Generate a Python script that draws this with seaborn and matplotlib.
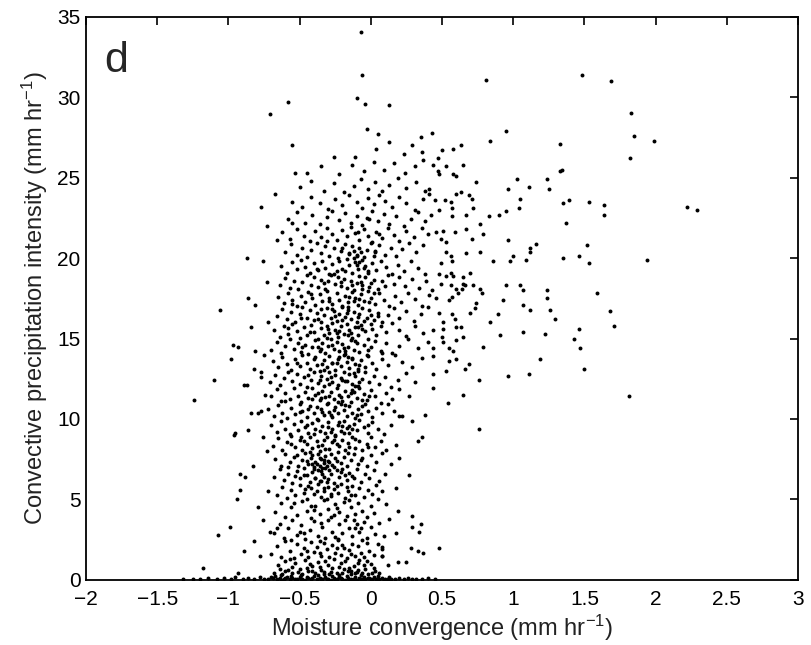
import matplotlib
matplotlib.use("Agg")
import matplotlib.pyplot as plt
from matplotlib.ticker import FuncFormatter
import seaborn as sns
import pandas as pd

# ---- data: hand-estimated point positions ----
baseline = [
(-1.32,0.05),(-1.25,0.08),(-1.2,0.04),(-1.14,0.1),(-1.08,0.06),(-1.03,0.12),(-0.98,0.05),(-0.95,0.2),(-0.9,0.07),(-0.86,0.1),(-0.82,0.04),(-0.78,0.15),(-0.75,0.06),
(-0.72,0.05),(-0.69,0.1),(-0.66,0.03),(-0.64,0.14),(-0.61,0.06),(-0.59,0.2),(-0.57,0.04),(-0.55,0.11),(-0.52,0.03),(-0.5,0.16),(-0.48,0.07),(-0.46,0.02),(-0.44,0.12),(-0.42,0.05),(-0.4,0.22),(-0.38,0.04),(-0.36,0.09),(-0.34,0.03),(-0.32,0.15),(-0.3,0.06),(-0.28,0.02),(-0.26,0.1),(-0.24,0.04),(-0.22,0.18),(-0.2,0.05),(-0.18,0.02),(-0.16,0.11),(-0.14,0.04),(-0.12,0.07),(-0.1,0.02),(-0.08,0.13),(-0.06,0.05),(-0.04,0.03),(-0.02,0.09),(0.0,0.04),(0.02,0.15),(0.04,0.06),(0.06,0.03),(0.08,0.1),(0.1,0.05),(0.12,0.08),(0.14,0.03),
(-0.7,0.18),(-0.67,0.25),(-0.63,0.02),(-0.6,0.1),(-0.56,0.27),(-0.53,0.08),(-0.49,0.03),(-0.45,0.2),(-0.41,0.1),(-0.37,0.28),(-0.35,0.02),(-0.31,0.08),(-0.27,0.22),(-0.25,0.02),(-0.21,0.1),(-0.17,0.24),(-0.15,0.02),(-0.11,0.16),(-0.07,0.03),(-0.05,0.2),(-0.01,0.12),(0.01,0.02),(0.05,0.22),(0.09,0.02),(0.13,0.17),
(0.17,0.04),(0.2,0.1),(0.23,0.05),(0.26,0.12),(0.29,0.04),(0.32,0.07),(0.36,0.03),(0.4,0.09),(0.45,0.05),
]

lower_core = [
(-0.68,0.45),(-0.65,0.9),(-0.62,0.38),(-0.6,1.2),(-0.58,0.6),(-0.55,0.42),(-0.53,1.05),(-0.5,0.7),(-0.48,0.35),(-0.46,1.25),(-0.44,0.55),(-0.41,0.85),(-0.39,0.4),(-0.37,1.1),(-0.35,0.62),(-0.33,0.36),(-0.3,0.95),(-0.28,0.5),(-0.26,1.3),(-0.24,0.4),(-0.22,0.78),(-0.2,0.45),(-0.18,1.15),(-0.16,0.58),(-0.14,0.37),(-0.12,0.88),(-0.1,0.5),(-0.08,1.22),(-0.06,0.4),(-0.04,0.7),(-0.02,0.36),(0.0,1.0),(0.03,0.55),(0.06,0.4),(-0.64,0.7),(-0.57,1.3),(-0.51,0.5),(-0.43,1.0),(-0.36,0.8),(-0.29,0.38),(-0.21,1.05),(-0.15,0.75),(-0.09,0.6),(-0.03,1.15),(0.01,0.45),(-0.45,0.75),(-0.32,1.2),(-0.19,0.65),(-0.11,0.42),(-0.05,0.95),
(-0.7,1.6),(-0.66,2.1),(-0.63,1.4),(-0.6,2.4),(-0.57,1.8),(-0.54,1.35),(-0.52,2.2),(-0.49,1.6),(-0.47,2.0),(-0.44,1.45),(-0.42,2.35),(-0.4,1.75),(-0.38,2.05),(-0.35,1.5),(-0.33,2.3),(-0.31,1.9),(-0.29,1.4),(-0.27,2.15),(-0.25,1.65),(-0.23,2.45),(-0.21,1.55),(-0.19,2.0),(-0.17,1.35),(-0.15,1.85),(-0.13,2.25),(-0.11,1.5),(-0.09,2.1),(-0.07,1.7),(-0.05,1.4),(-0.03,2.3),(-0.01,1.8),(0.02,1.55),(0.05,2.2),(-0.56,2.45),(-0.45,1.8),(-0.36,2.4),(-0.24,1.95),(-0.14,1.6),(-0.06,2.45),(0.08,1.5),
(-0.68,2.9),(-0.64,3.5),(-0.61,2.6),(-0.58,3.2),(-0.55,3.7),(-0.52,2.8),(-0.49,3.4),(-0.46,2.55),(-0.43,3.1),(-0.4,3.65),(-0.37,2.75),(-0.34,3.3),(-0.32,2.6),(-0.3,3.75),(-0.27,3.0),(-0.25,2.65),(-0.22,3.5),(-0.2,2.9),(-0.18,3.7),(-0.15,3.2),(-0.13,2.7),(-0.1,3.45),(-0.08,2.95),(-0.05,3.6),(-0.03,2.6),(0.0,3.3),(0.03,2.85),(0.06,3.55),(-0.5,3.0),(-0.35,3.55),(-0.23,2.55),(-0.12,3.75),(-0.66,3.2),(-0.07,3.25),(0.09,2.7),
(-0.67,4.2),(-0.63,4.8),(-0.6,3.9),(-0.56,4.5),(-0.52,4.05),(-0.48,4.9),(-0.45,4.3),(-0.42,3.85),(-0.39,4.6),(-0.36,4.1),(-0.33,4.95),(-0.3,4.4),(-0.28,3.9),(-0.25,4.7),(-0.22,4.2),(-0.19,4.85),(-0.17,3.95),(-0.14,4.5),(-0.11,4.1),(-0.09,4.75),(-0.06,4.3),(-0.03,3.9),(0.0,4.6),(0.02,4.15),(-0.54,4.75),(-0.4,4.35),(-0.26,4.05),(-0.15,4.95),
(0.18,5.7),(0.19,4.3),(0.18,2.9),(0.19,1.1),(0.25,1.1),(0.29,4.0),(0.35,3.5),(0.34,3.0),(0.29,3.3),(0.28,2.0),(0.33,1.8),(0.37,1.7),(0.48,2.0),(0.11,4.7),(0.08,2.05),(0.08,1.9),(0.08,1.5),(0.05,5.0),(0.13,3.8),(0.12,0.9),
]

mid_core = [
(-0.66,5.3),(-0.62,5.8),(-0.59,5.1),(-0.56,5.6),(-0.53,5.25),(-0.5,5.9),(-0.47,5.4),(-0.45,5.05),(-0.42,5.7),(-0.4,5.35),(-0.37,5.95),(-0.35,5.15),(-0.33,5.55),(-0.3,5.8),(-0.28,5.2),(-0.26,5.65),(-0.23,5.4),(-0.21,5.95),(-0.18,5.1),(-0.16,5.5),(-0.13,5.85),(-0.11,5.3),(-0.08,5.7),(-0.05,5.15),(-0.02,5.6),(0.01,5.35),(0.04,5.9),(-0.38,5.5),(-0.31,5.05),(-0.24,5.85),(-0.44,5.85),(-0.14,5.25),(0.08,5.5),
(-0.68,6.4),(-0.64,6.9),(-0.61,6.2),(-0.58,6.6),(-0.55,6.05),(-0.52,6.75),(-0.5,6.3),(-0.47,6.95),(-0.45,6.5),(-0.43,6.1),(-0.41,6.7),(-0.39,6.35),(-0.37,6.85),(-0.36,6.15),(-0.34,6.55),(-0.32,6.95),(-0.3,6.25),(-0.28,6.6),(-0.26,6.05),(-0.24,6.8),(-0.22,6.4),(-0.2,6.9),(-0.17,6.2),(-0.15,6.65),(-0.12,6.35),(-0.1,6.9),(-0.07,6.1),(-0.04,6.55),(-0.01,6.3),(0.02,6.8),(0.06,6.15),(0.1,6.6),(-0.33,6.4),(-0.35,6.75),(-0.4,6.9),(-0.29,6.85),(-0.53,6.45),(-0.18,6.5),(0.27,6.5),
(-0.67,7.5),(-0.63,7.1),(-0.6,7.8),(-0.57,7.3),(-0.54,7.65),(-0.51,7.05),(-0.48,7.45),(-0.46,7.9),(-0.44,7.2),(-0.42,7.6),(-0.4,7.0),(-0.39,7.35),(-0.37,7.8),(-0.36,7.1),(-0.35,7.5),(-0.34,6.95),(-0.33,7.25),(-0.32,7.7),(-0.31,7.05),(-0.3,7.4),(-0.28,7.85),(-0.27,7.15),(-0.25,7.55),(-0.23,7.95),(-0.21,7.25),(-0.19,7.65),(-0.17,7.05),(-0.14,7.45),(-0.12,7.85),(-0.09,7.2),(-0.06,7.6),(-0.03,7.1),(0.0,7.75),(0.04,7.35),(0.08,7.9),(-0.38,7.2),(-0.36,7.6),(-0.33,7.45),(-0.41,7.75),(-0.29,7.3),(-0.45,7.4),(-0.26,7.0),(0.14,7.2),(0.2,7.6),
(-0.69,8.3),(-0.65,8.8),(-0.62,8.1),(-0.59,8.55),(-0.56,8.95),(-0.53,8.25),(-0.5,8.7),(-0.48,8.05),(-0.45,8.45),(-0.43,8.9),(-0.41,8.2),(-0.38,8.6),(-0.36,8.0),(-0.34,8.4),(-0.31,8.85),(-0.29,8.15),(-0.27,8.55),(-0.25,8.95),(-0.22,8.3),(-0.2,8.7),(-0.18,8.05),(-0.16,8.5),(-0.13,8.9),(-0.11,8.2),(-0.08,8.65),(-0.06,8.05),(-0.03,8.45),(0.0,8.85),(0.03,8.25),(0.07,8.6),(0.11,8.1),(-0.24,8.45),(-0.33,8.7),(-0.47,8.6),(-0.15,8.25),(0.33,8.6),(0.36,8.9),(0.18,8.4),
(-0.7,9.6),(-0.66,9.2),(-0.63,9.85),(-0.6,9.4),(-0.57,9.05),(-0.54,9.7),(-0.51,9.3),(-0.49,9.9),(-0.46,9.5),(-0.44,9.1),(-0.41,9.75),(-0.39,9.35),(-0.37,9.95),(-0.34,9.55),(-0.32,9.15),(-0.3,9.8),(-0.27,9.4),(-0.25,9.0),(-0.23,9.65),(-0.21,9.25),(-0.19,9.9),(-0.17,9.45),(-0.15,9.1),(-0.12,9.7),(-0.1,9.3),(-0.08,9.95),(-0.05,9.5),(-0.02,9.15),(0.01,9.8),(0.05,9.4),(0.09,9.05),(0.14,9.6),(-0.28,9.2),(-0.2,9.55),(-0.13,9.35),(-0.36,9.25),(0.2,10.2),(0.29,9.9),(0.38,10.25),
]

upper_core = [
(-0.72,10.6),(-0.68,10.2),(-0.65,10.85),(-0.62,10.4),(-0.59,10.05),(-0.56,10.7),(-0.53,10.3),(-0.5,10.95),(-0.48,10.5),(-0.45,10.15),(-0.43,10.8),(-0.4,10.35),(-0.38,10.0),(-0.35,10.65),(-0.33,10.25),(-0.31,10.9),(-0.29,10.45),(-0.27,10.1),(-0.25,10.75),(-0.23,10.35),(-0.21,10.95),(-0.19,10.55),(-0.17,10.2),(-0.15,10.8),(-0.13,10.4),(-0.11,10.05),(-0.09,10.65),(-0.07,10.3),(-0.04,10.9),(-0.02,10.5),(0.01,10.15),(0.04,10.7),(0.08,10.35),(0.12,10.9),(0.16,10.5),(0.22,10.2),(-0.26,10.55),(-0.18,10.85),(-0.1,10.25),(-0.34,10.45),(-0.44,10.6),
(-0.7,11.4),(-0.66,11.85),(-0.63,11.1),(-0.6,11.6),(-0.57,11.25),(-0.54,11.9),(-0.51,11.45),(-0.49,11.05),(-0.46,11.7),(-0.44,11.3),(-0.41,11.95),(-0.39,11.5),(-0.36,11.15),(-0.34,11.75),(-0.32,11.35),(-0.3,11.0),(-0.28,11.65),(-0.26,11.25),(-0.24,11.9),(-0.22,11.5),(-0.2,11.1),(-0.18,11.75),(-0.16,11.4),(-0.14,11.05),(-0.12,11.65),(-0.1,11.3),(-0.08,11.95),(-0.05,11.55),(-0.03,11.15),(0.0,11.8),(0.03,11.4),(0.07,11.0),(0.11,11.6),(0.15,11.25),(0.2,11.85),(0.27,11.4),(-0.21,11.35),(-0.13,11.8),(-0.29,11.45),(-0.37,11.6),(-0.06,11.2),
(-0.71,12.3),(-0.67,12.75),(-0.64,12.1),(-0.61,12.55),(-0.58,12.95),(-0.55,12.35),(-0.52,12.8),(-0.5,12.15),(-0.47,12.6),(-0.45,12.0),(-0.42,12.45),(-0.4,12.9),(-0.37,12.25),(-0.35,12.7),(-0.33,12.05),(-0.31,12.5),(-0.29,12.95),(-0.27,12.3),(-0.25,12.75),(-0.23,12.1),(-0.21,12.55),(-0.19,12.95),(-0.17,12.35),(-0.15,12.8),(-0.13,12.2),(-0.11,12.65),(-0.09,12.05),(-0.06,12.5),(-0.04,12.9),(-0.01,12.3),(0.02,12.7),(0.06,12.15),(0.1,12.6),(0.14,12.0),(0.19,12.45),(0.25,12.85),(0.31,12.3),(-0.2,12.4),(-0.12,12.85),(-0.28,12.6),(-0.36,12.4),
(-0.69,13.6),(-0.65,13.2),(-0.62,13.85),(-0.59,13.4),(-0.56,13.05),(-0.53,13.7),(-0.5,13.3),(-0.48,13.95),(-0.45,13.5),(-0.43,13.1),(-0.4,13.75),(-0.38,13.35),(-0.36,13.0),(-0.33,13.65),(-0.31,13.25),(-0.29,13.9),(-0.27,13.45),(-0.25,13.05),(-0.23,13.7),(-0.21,13.3),(-0.19,13.95),(-0.17,13.55),(-0.15,13.15),(-0.13,13.8),(-0.11,13.4),(-0.09,13.0),(-0.07,13.65),(-0.04,13.25),(-0.02,13.9),(0.01,13.5),(0.04,13.1),(0.08,13.75),(0.12,13.35),(0.17,13.95),(0.22,13.55),(0.29,13.2),(0.36,13.8),(-0.24,13.5),(-0.16,13.85),(-0.08,13.35),(-0.34,13.4),
(-0.7,14.3),(-0.66,14.8),(-0.63,14.1),(-0.6,14.55),(-0.57,14.95),(-0.54,14.35),(-0.51,14.75),(-0.49,14.15),(-0.46,14.6),(-0.44,14.05),(-0.41,14.5),(-0.39,14.9),(-0.36,14.25),(-0.34,14.7),(-0.32,14.1),(-0.3,14.55),(-0.28,14.95),(-0.26,14.35),(-0.24,14.8),(-0.22,14.2),(-0.2,14.65),(-0.18,14.05),(-0.16,14.5),(-0.14,14.9),(-0.12,14.3),(-0.1,14.75),(-0.08,14.15),(-0.05,14.6),(-0.03,14.0),(0.0,14.45),(0.03,14.85),(0.07,14.25),(0.11,14.7),(0.15,14.1),(0.2,14.55),(0.26,14.95),(0.33,14.4),(0.4,14.8),(-0.19,14.4),(-0.11,14.85),(-0.27,14.6),(-0.37,14.5),
(-0.68,15.5),(-0.64,15.1),(-0.61,15.75),(-0.58,15.3),(-0.55,15.9),(-0.52,15.45),(-0.5,15.05),(-0.47,15.7),(-0.45,15.25),(-0.42,15.85),(-0.4,15.4),(-0.37,15.0),(-0.35,15.65),(-0.33,15.2),(-0.31,15.8),(-0.29,15.35),(-0.27,15.95),(-0.25,15.55),(-0.23,15.1),(-0.21,15.75),(-0.19,15.3),(-0.17,15.9),(-0.15,15.5),(-0.13,15.05),(-0.11,15.7),(-0.09,15.25),(-0.07,15.85),(-0.04,15.45),(-0.02,15.0),(0.01,15.6),(0.04,15.2),(0.07,15.8),(0.11,15.4),(0.15,15.95),(0.2,15.55),(0.25,15.15),(0.31,15.75),(0.37,15.35),(-0.14,15.35),(-0.06,15.6),(-0.22,15.45),(-0.3,15.6),(0.0,15.9),
(-0.66,16.4),(-0.62,16.85),(-0.59,16.2),(-0.56,16.65),(-0.53,16.05),(-0.5,16.5),(-0.48,16.95),(-0.45,16.3),(-0.43,16.75),(-0.4,16.15),(-0.38,16.6),(-0.35,16.0),(-0.33,16.45),(-0.31,16.9),(-0.28,16.25),(-0.26,16.7),(-0.24,16.1),(-0.22,16.55),(-0.2,16.95),(-0.18,16.35),(-0.16,16.8),(-0.14,16.2),(-0.12,16.65),(-0.1,16.05),(-0.08,16.5),(-0.06,16.9),(-0.03,16.3),(-0.01,16.75),(0.02,16.15),(0.05,16.6),(0.08,16.0),(0.12,16.45),(0.16,16.9),(0.2,16.3),(0.25,16.7),(0.3,16.1),(0.35,16.55),(0.4,16.95),(-0.09,16.35),(-0.17,16.6),(0.0,16.45),(-0.25,16.4),
(-0.65,17.6),(-0.61,17.2),(-0.58,17.85),(-0.55,17.4),(-0.52,17.0),(-0.49,17.65),(-0.46,17.25),(-0.44,17.9),(-0.41,17.5),(-0.39,17.1),(-0.36,17.75),(-0.34,17.35),(-0.31,17.95),(-0.29,17.55),(-0.27,17.15),(-0.24,17.8),(-0.22,17.4),(-0.2,17.0),(-0.18,17.65),(-0.16,17.25),(-0.13,17.9),(-0.11,17.5),(-0.09,17.1),(-0.07,17.75),(-0.05,17.35),(-0.02,17.95),(0.0,17.55),(0.03,17.15),(0.06,17.8),(0.09,17.4),(0.13,17.0),(0.17,17.65),(0.21,17.25),(0.26,17.85),(0.31,17.45),(0.36,17.05),(0.41,17.7),(-0.08,17.45),(-0.15,17.6),(-0.01,17.25),
(-0.64,18.3),(-0.6,18.75),(-0.57,18.15),(-0.54,18.6),(-0.51,18.05),(-0.48,18.5),(-0.45,18.95),(-0.42,18.35),(-0.4,18.8),(-0.37,18.2),(-0.35,18.65),(-0.32,18.1),(-0.3,18.55),(-0.28,18.95),(-0.25,18.4),(-0.23,18.85),(-0.21,18.25),(-0.19,18.7),(-0.17,18.15),(-0.14,18.6),(-0.12,18.0),(-0.1,18.45),(-0.08,18.9),(-0.06,18.35),(-0.04,18.8),(-0.01,18.2),(0.02,18.65),(0.05,18.1),(0.08,18.55),(0.12,18.95),(0.16,18.4),(0.2,18.85),(0.24,18.25),(0.29,18.7),(0.34,18.15),(0.39,18.6),(-0.07,18.5),(-0.13,18.3),(0.0,18.45),
(-0.63,19.5),(-0.59,19.1),(-0.55,19.75),(-0.52,19.3),(-0.49,19.9),(-0.46,19.45),(-0.43,19.05),(-0.4,19.7),(-0.37,19.25),(-0.34,19.85),(-0.32,19.4),(-0.29,19.0),(-0.27,19.65),(-0.24,19.2),(-0.22,19.8),(-0.2,19.35),(-0.17,19.95),(-0.15,19.55),(-0.13,19.1),(-0.11,19.75),(-0.09,19.3),(-0.06,19.9),(-0.04,19.5),(-0.02,19.05),(0.01,19.7),(0.04,19.25),(0.07,19.85),(0.11,19.45),(0.15,19.0),(0.19,19.6),(0.23,19.2),(0.28,19.8),(0.33,19.4),(0.38,19.0),(-0.1,19.6),(-0.18,19.2),(-0.05,19.4),(-0.12,20.0),(-0.1,20.1),
]

# extra irregular points filling the darkest part of the cloud
dense_extra = [
(-0.47,6.52),(-0.31,6.08),(-0.26,8.71),(-0.43,7.93),(-0.19,9.12),(-0.38,10.77),(-0.14,11.62),(-0.29,12.18),(-0.09,13.12),(-0.22,13.88),(-0.35,14.33),(-0.16,15.21),(-0.05,16.12),(-0.27,16.83),(-0.12,17.31),(-0.33,18.44),(-0.02,19.22),(-0.2,20.62),
(-0.52,7.73),(-0.24,7.37),(-0.37,8.33),(-0.11,8.77),(-0.45,9.64),(-0.28,10.22),(-0.06,10.81),(-0.41,11.27),(-0.18,12.33),(-0.33,13.06),(-0.13,13.71),(-0.48,14.47),(-0.24,15.32),(-0.37,16.21),(-0.16,16.97),(-0.42,17.77),(-0.21,18.51),(-0.08,19.76),
(-0.39,6.33),(-0.21,6.73),(-0.56,8.42),(-0.3,9.48),(-0.02,9.61),(-0.5,10.43),(-0.23,11.04),(-0.08,12.27),(-0.44,12.71),(-0.27,13.51),(-0.02,14.28),(-0.31,15.05),(-0.09,15.72),(-0.49,16.27),(-0.29,17.36),(-0.06,18.06),(-0.38,19.34),(0.03,20.41),
(-0.33,5.72),(-0.13,6.48),(-0.41,7.18),(-0.16,7.86),(-0.49,8.91),(-0.22,9.82),(-0.35,11.33),(-0.11,12.03),(-0.39,13.88),(-0.18,14.21),(-0.43,15.38),(-0.2,16.18),(-0.35,16.86),(0.02,17.82),(-0.26,19.03),(-0.15,20.24),(-0.31,21.08),(0.06,21.52),
(-0.28,5.36),(-0.46,5.62),(-0.17,5.78),(-0.35,6.12),(-0.58,7.02),(-0.07,7.43),(-0.32,8.11),(-0.02,8.27),(-0.4,9.04),(-0.15,9.57),(-0.6,11.13),(-0.01,11.44),(-0.52,13.48),(0.08,14.09),(-0.58,15.64),(0.05,16.38),(-0.55,17.14),(0.1,18.27),
(-0.24,4.44),(-0.42,4.62),(-0.11,3.21),(-0.47,2.93),(-0.2,2.18),(-0.36,1.67),(-0.09,1.06),(-0.55,0.83),(-0.27,0.72),(-0.41,0.55),(-0.14,0.52),(0.02,0.72),(-0.6,0.55),(-0.33,0.48),(-0.22,0.32),(-0.07,0.3),(-0.49,0.3),(-0.63,0.32),
]

right_wing = [
(0.81,31.1),(1.48,31.4),(1.69,31.0),(1.83,29.0),(1.85,27.6),(1.99,27.3),(1.82,26.2),(0.95,27.9),(0.84,27.3),(1.33,27.1),(0.43,27.8),(0.50,26.7),(0.58,26.8),(0.63,27.0),(0.47,26.2),(0.44,25.8),(0.53,25.7),(0.65,25.8),(0.47,25.4),(0.48,25.2),(0.58,25.2),(0.60,25.1),(1.33,25.4),(1.34,25.5),(1.03,24.9),(1.24,24.9),(0.74,24.7),(0.41,24.3),(0.96,24.3),(1.11,24.4),(1.25,24.3),
(0.45,23.6),(0.52,23.6),(0.56,23.5),(0.60,24.0),(0.63,24.1),(0.69,23.9),(0.71,23.7),(0.72,23.1),(0.57,23.1),(0.48,23.0),(1.05,23.7),(1.04,23.1),(1.35,23.4),(1.39,23.6),(1.53,23.5),(1.64,23.3),(1.64,22.7),(1.37,22.2),(2.22,23.2),(2.29,23.0),(0.95,22.9),
(0.96,21.1),(1.16,20.9),(1.12,20.6),(1.12,20.4),(1.0,20.1),(0.98,19.8),(1.09,19.9),(1.35,20.0),(1.46,20.1),(1.52,20.8),(1.53,19.7),(1.94,19.9),(0.95,18.3),(1.05,18.3),(1.07,18.0),(1.24,18.0),(1.24,17.5),(1.59,17.8),(1.68,16.7),(1.71,15.8),(1.46,15.6),(1.43,15.0),(1.47,14.4),(1.50,13.1),(1.81,11.4),
(1.26,16.8),(1.29,16.2),(1.22,15.3),(1.19,13.7),(1.11,12.8),(0.96,12.7),(0.76,12.4),(0.65,11.5),(0.54,11.0),(0.76,9.4),(1.07,15.4),(1.12,16.8),(1.07,17.1),(0.93,17.4),(0.89,16.5),(0.84,16.0),(0.91,15.2),(0.79,14.5),(0.69,13.4),(0.66,13.1),(0.53,13.0),(0.44,12.8),(0.44,11.9),
(0.70,16.6),(0.73,16.9),(0.74,17.2),(0.78,17.8),(0.77,18.1),(0.72,18.3),(0.66,18.3),(0.65,18.4),(0.64,18.1),(0.70,19.1),(0.65,18.8),(0.86,19.8),(0.83,22.6),(0.90,22.7),(0.77,20.4),(0.67,20.3),(0.79,21.5),(0.77,22.1),(0.71,21.2),(0.67,22.7),(0.67,21.8),(0.57,22.6),(0.59,21.6),(0.51,21.7),(0.46,21.6),(0.49,21.2),(0.53,21.0),(0.53,20.4),(0.56,20.1),(0.57,19.8),(0.49,19.7),(0.48,19.0),(0.53,18.9),(0.56,19.1),(0.58,18.9),(0.49,18.4),(0.56,18.3),(0.60,18.1),(0.61,17.8),(0.57,17.6),(0.55,17.4),(0.46,17.5),(0.43,18.0),
(0.48,16.6),(0.57,16.5),(0.59,16.2),(0.51,16.0),(0.44,15.5),(0.51,15.6),(0.60,15.7),(0.63,15.7),(0.50,15.1),(0.51,14.8),(0.60,14.9),(0.65,15.1),(0.55,14.4),(0.58,14.2),(0.44,14.4),(0.44,13.9),(0.60,13.7),(0.55,13.6),
]

top_core = [
(-0.6,20.4),(-0.56,20.85),(-0.52,20.2),(-0.48,20.65),(-0.45,20.05),(-0.42,20.5),(-0.38,20.95),(-0.35,20.3),(-0.32,20.75),(-0.29,20.15),(-0.26,20.6),(-0.23,20.0),(-0.21,20.45),(-0.18,20.9),(-0.15,20.3),(-0.13,20.75),(-0.1,20.2),(-0.08,20.6),(-0.05,20.05),(-0.03,20.5),(0.0,20.95),(0.03,20.35),(0.06,20.8),(0.1,20.2),(0.14,20.65),(0.18,20.1),(0.22,20.55),(0.27,20.95),(0.32,20.4),(0.37,20.8),(-0.07,20.35),(0.02,20.15),(-0.12,20.45),
(-0.62,21.6),(-0.57,21.2),(-0.52,21.8),(-0.47,21.4),(-0.43,21.05),(-0.39,21.7),(-0.35,21.3),(-0.31,21.9),(-0.27,21.5),(-0.24,21.1),(-0.2,21.75),(-0.17,21.35),(-0.14,21.95),(-0.11,21.55),(-0.08,21.15),(-0.05,21.8),(-0.02,21.4),(0.01,21.0),(0.04,21.65),(0.08,21.25),(0.12,21.85),(0.16,21.45),(0.2,21.05),(0.25,21.7),(0.3,21.3),(0.36,21.9),(0.4,21.5),(-0.09,21.6),
(-0.58,22.4),(-0.52,22.85),(-0.46,22.2),(-0.41,22.65),(-0.36,22.1),(-0.31,22.55),(-0.27,22.95),(-0.22,22.35),(-0.18,22.8),(-0.14,22.2),(-0.1,22.6),(-0.06,22.05),(-0.03,22.5),(0.01,22.9),(0.05,22.3),(0.09,22.75),(0.13,22.15),(0.18,22.6),(0.23,22.0),(0.28,22.45),(0.33,22.85),(0.38,22.3),(-0.01,22.4),(0.42,22.7),
(-0.55,23.5),(-0.48,23.15),(-0.42,23.8),(-0.36,23.4),(-0.3,23.05),(-0.25,23.7),(-0.2,23.3),(-0.15,23.9),(-0.1,23.5),(-0.06,23.1),(-0.02,23.75),(0.02,23.35),(0.06,23.95),(0.1,23.55),(0.15,23.15),(0.2,23.8),(0.25,23.4),(0.31,23.0),(0.37,23.65),(0.41,24.0),
(-0.5,24.4),(-0.42,24.8),(-0.33,24.2),(-0.26,24.65),(-0.19,24.1),(-0.12,24.5),(-0.07,24.9),(-0.02,24.3),(0.03,24.7),(0.08,24.15),(0.13,24.55),(0.19,24.95),(0.25,24.35),(0.32,24.75),(0.38,24.2),
(-0.45,25.3),(-0.35,25.7),(-0.22,25.2),(-0.13,25.8),(-0.05,25.4),(0.02,26.0),(0.09,25.5),(0.16,25.9),(0.24,25.3),(0.31,25.75),(0.37,26.1),
]

top_outliers = [
(-0.07,34.06),(-0.06,31.4),(-0.10,29.95),(-0.04,29.6),(0.13,29.5),(-0.58,29.7),(-0.71,28.96),(-0.03,28.0),(0.05,27.7),(0.35,27.5),(-0.55,27.0),(0.13,27.2),(0.04,26.8),(0.29,27.0),(0.36,26.6),(0.23,26.5),(-0.26,26.3),(-0.11,26.3),(-0.53,25.3),(-0.67,24.0),(-0.77,23.2),(-0.73,22.0),(-0.55,22.2),(-0.66,21.1),
]

left_wing = [
(-0.87,20.0),(-0.76,19.8),(-0.86,17.5),(-0.81,17.1),(-1.06,16.8),(-0.84,15.7),(-0.97,14.6),(-0.93,14.5),(-0.81,14.2),(-0.98,13.7),(-0.82,13.1),(-0.77,12.9),(-0.77,12.6),(-1.10,12.4),(-0.89,12.1),(-0.87,12.1),(-1.24,11.2),(-0.84,10.4),(-0.79,10.4),(-0.77,10.5),(-0.96,9.0),(-0.95,9.1),(-0.86,9.3),(-0.76,8.9),(-0.83,7.1),(-0.92,6.6),(-0.88,6.4),(-0.92,5.6),(-0.94,5.0),(-0.79,4.5),(-0.76,3.7),(-0.99,3.3),(-1.07,2.8),(-0.82,2.4),(-0.89,1.8),(-0.78,1.5),(-1.18,0.76),(-0.93,0.45),(-0.73,18.5),(-0.72,16.0),(-0.75,14.0),(-0.74,11.5),(-0.73,8.0),(-0.72,5.5),(-0.71,3.0),
]

x_ticks = [-2, -1.5, -1, -0.5, 0, 0.5, 1, 1.5, 2, 2.5, 3]
y_ticks = [0, 5, 10, 15, 20, 25, 30, 35]
x_label = "Moisture convergence (mm hr$^{-1}$)"
y_label = "Convective precipitation intensity (mm hr$^{-1}$)"
panel_label = "d"

# ---- build table ----
all_pts = (baseline + lower_core + mid_core + upper_core + dense_extra + top_core
           + right_wing + top_outliers + left_wing)
df = pd.DataFrame(all_pts, columns=["conv", "precip"])

sns.set_style("white")
plt.rcParams['font.family'] = ['Liberation Sans', 'DejaVu Sans']
plt.rcParams['mathtext.default'] = 'regular'
plt.rcParams['axes.unicode_minus'] = True

fig = plt.figure(figsize=(8.11, 6.45), dpi=100)
ax = fig.add_axes([0.106, 0.101, 0.878, 0.873])

sns.scatterplot(data=df, x="conv", y="precip", ax=ax, color="black",
                s=8, linewidth=0, marker="o", legend=False)

ax.set_xlim(-2, 3)
ax.set_ylim(0, 35)
ax.set_xticks(x_ticks)
ax.set_yticks(y_ticks)
fmt = FuncFormatter(lambda v, p: ("%g" % v).replace("-", "\u2212"))
ax.xaxis.set_major_formatter(fmt)
ax.yaxis.set_major_formatter(fmt)
ax.tick_params(direction="in", top=True, right=True, length=6, width=1.2,
               labelsize=15, colors="black")
ax.tick_params(axis="x", pad=7)
ax.tick_params(axis="y", pad=4)
for sp in ax.spines.values():
    sp.set_linewidth(1.3)
    sp.set_color("black")

ax.set_xlabel(x_label, fontsize=17, color="#222222", labelpad=3)
ax.set_ylabel(y_label, fontsize=17, color="#222222", labelpad=5)
ax.text(0.025, 0.902, panel_label, transform=ax.transAxes, fontsize=31,
        va="baseline", ha="left")

fig.savefig("out.png", dpi=100)
